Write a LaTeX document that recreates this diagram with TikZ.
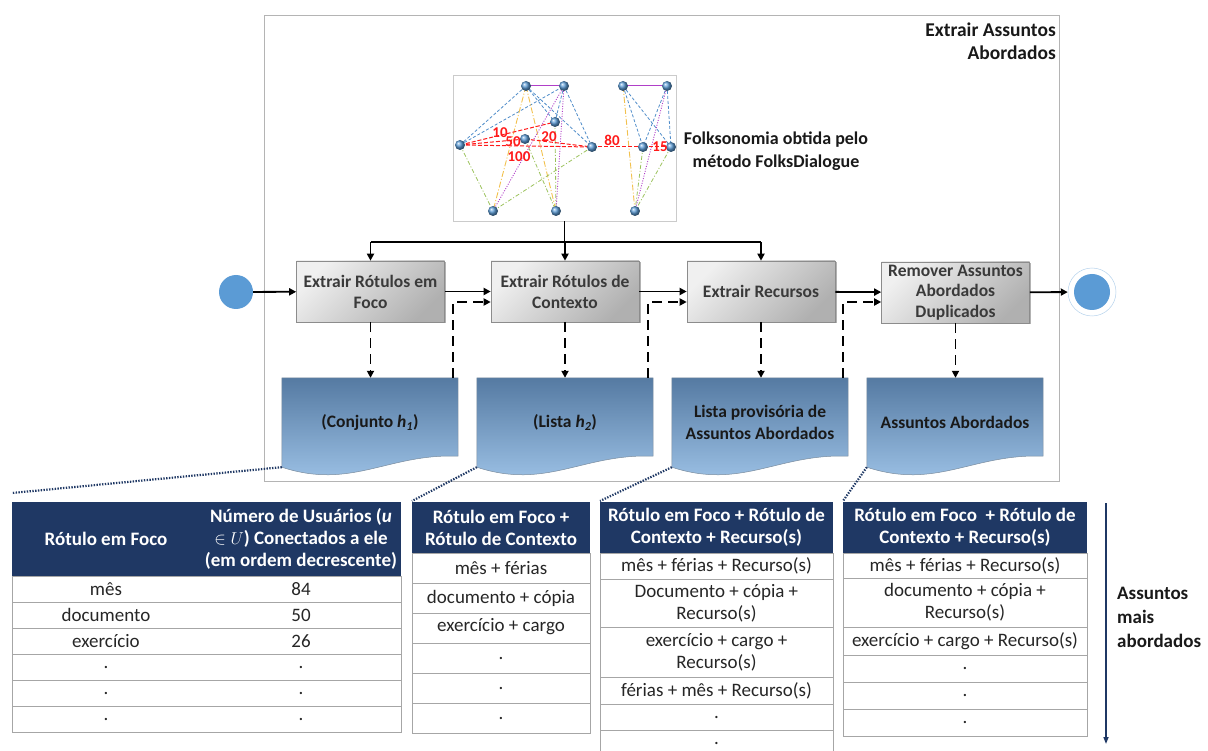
\documentclass[tikz,border=0pt]{standalone}
\usepackage{fontspec}
\setmainfont{Carlito}
\usetikzlibrary{arrows.meta,calc,shadows,backgrounds}

\definecolor{navy}{HTML}{1F3864}
\definecolor{dotBlue}{HTML}{5B9BD5}
\definecolor{boxTop}{HTML}{F0F0F0}
\definecolor{boxBot}{HTML}{B0B0B0}
\definecolor{boxEdge}{HTML}{8C8C8C}
\definecolor{boxText}{HTML}{3A3A3A}
\definecolor{docTop}{HTML}{557AA2}
\definecolor{docBot}{HTML}{A2C7EB}
\definecolor{docEdge}{HTML}{7A8C9E}
\definecolor{gridGray}{HTML}{A6A6A6}
\definecolor{frameGray}{HTML}{B4B4B4}
\definecolor{eBlue}{HTML}{4F8CC9}
\definecolor{eYellow}{HTML}{F2C14E}
\definecolor{eGreen}{HTML}{9BC25C}
\definecolor{ePurple}{HTML}{B03FC8}
\definecolor{eRed}{HTML}{FF1A1A}

\newcommand\setfs[2]{\fontsize{#1}{#2}\selectfont}

\begin{document}
\begin{tikzpicture}[x=1pt,y=-1pt,
  flow/.style={line width=1.8pt,-{Triangle[length=7pt,width=7pt]}},
  plain/.style={line width=1.8pt},
  dflow/.style={line width=1.8pt,dash pattern=on 10pt off 6pt,-{Triangle[length=7pt,width=7pt]}},
  procbox/.style={draw=boxEdge,line width=0.6pt,top color=boxTop,bottom color=boxBot,
    shading angle=45,minimum width=148pt,minimum height=61pt,align=center,inner xsep=2pt,inner ysep=0pt,
    text=boxText,font=\setfs{17.5}{21}\bfseries,
    drop shadow={shadow xshift=1.5pt,shadow yshift=-1.5pt,opacity=0.3,fill=black}},
  docnode/.style={minimum width=176pt,minimum height=89pt,inner sep=0,align=center,
    font=\setfs{17.5}{22}\bfseries,text=black!90},
  docshade/.style={top color=docTop,bottom color=docBot,draw=docEdge,line width=0.5pt},
  gnode/.style={circle,inner sep=0,minimum size=10pt,ball color=dotBlue},
  ebl/.style={eBlue,line width=0.8pt,dash pattern=on 3pt off 2pt},
  eyl/.style={eYellow,line width=0.9pt,dash pattern=on 6pt off 2pt on 1pt off 2pt},
  egr/.style={eGreen,line width=0.8pt,dash pattern=on 4pt off 2pt on 1pt off 2pt},
  epu/.style={ePurple,line width=0.9pt,dash pattern=on 1pt off 1.5pt},
  epus/.style={ePurple,line width=1pt},
  erd/.style={eRed,line width=1pt,dash pattern=on 4pt off 2pt},
  wlbl/.style={text=eRed,font=\setfs{15}{15}\bfseries,inner sep=0},
  link/.style={navy,line width=2.2pt,dash pattern=on 1.4pt off 1.4pt},
  tline/.style={draw=gridGray,line width=0.8pt},
  hdr/.style={font=\setfs{19}{22}\bfseries,align=center,text=white,inner sep=0},
  cell/.style={font=\setfs{19}{22},align=center,inner sep=0,text=black!85},
  boldtxt/.style={font=\setfs{18}{23}\bfseries,inner sep=0,text=black!90}
]
\useasboundingbox (0,0) rectangle (1208,751);

% ---------- process frame ----------
\draw[frameGray,line width=0.8pt] (264,15) rectangle (1059,481);
\node[boldtxt,font=\setfs{19.5}{23}\bfseries,anchor=east,align=right] (title) at (1056,41.5) {Extrair Assuntos\\Abordados};

% ---------- folksonomy graph ----------
\node[draw=frameGray!70,line width=0.6pt,minimum width=223pt,minimum height=146pt,inner sep=0] (folk) at (564.5,148) {};
\node[gnode] (gA) at (526,86) {};
\node[gnode] (gB) at (564,86) {};
\node[gnode] (gC) at (623,86) {};
\node[gnode] (gD) at (667,86) {};
\node[gnode] (gE) at (555,122) {};
\node[gnode] (gF) at (460,145) {};
\node[gnode] (gG) at (525,139) {};
\node[gnode] (gH) at (592,147) {};
\node[gnode] (gI) at (643,147) {};
\node[gnode] (gJ) at (671,147) {};
\node[gnode] (gK) at (493,211) {};
\node[gnode] (gL) at (556,211) {};
\node[gnode] (gM) at (635,211) {};
\begin{scope}[on background layer]
  \draw[ebl] (gF.center) -- (gA.center);
  \draw[ebl] (gF.center) -- (gB.center);
  \draw[ebl] (gA.center) -- (gH.center);
  \draw[ebl] (gB.center) -- (gH.center);
  \draw[ebl] (gB.center) -- (gE.center);
  \draw[ebl] (gA.center) -- (gE.center);
  \draw[ebl] (gC.center) -- (gI.center);
  \draw[ebl] (gC.center) -- (gJ.center);
  \draw[ebl] (gD.center) -- (gI.center);
  \draw[ebl] (gD.center) -- (gJ.center);
  \draw[eyl] (gA.center) -- (gK.center);
  \draw[eyl] (gA.center) -- (gL.center);
  \draw[eyl] (gC.center) -- (gM.center);
  \draw[egr] (gF.center) -- (gK.center);
  \draw[egr] (gK.center) -- (gH.center);
  \draw[egr] (gG.center) -- (gL.center);
  \draw[egr] (gE.center) -- (gL.center);
  \draw[egr] (gJ.center) -- (gM.center);
  \draw[egr] (gI.center) -- (gM.center);
  \draw[epu] (gB.center) -- (gK.center);
  \draw[epu] (gB.center) -- (gL.center);
  \draw[epu] (gD.center) -- (gM.center);
  \draw[epus] (gA.center) -- (gB.center);
  \draw[epus] (gC.center) -- (gD.center);
  \draw[erd] (gF.center) -- (gE.center);
  \draw[erd] (gF.center) -- (gG.center);
  \draw[erd] (gF.center) -- (gH.center);
  \draw[erd] (gG.center) -- (gH.center);
  \draw[erd] (gH.center) -- (gI.center);
  \draw[erd] (gI.center) -- (gJ.center);
\end{scope}
\node[wlbl] (w10) at (500,133) {10};
\node[wlbl] (w50) at (513,142) {50};
\node[wlbl] (w20) at (549,137) {20};
\node[wlbl] (w100) at (519,157) {100};
\node[wlbl] (w80) at (612,140) {80};
\node[wlbl] (w15) at (660,147) {15};
\node[boldtxt,align=center] (folkcap) at (776,151.5) {Folksonomia obtida pelo\\método FolksDialogue};

% ---------- activities ----------
\node[circle,fill=dotBlue,minimum size=34pt,inner sep=0] (start) at (236,292) {};
\node[procbox] (box1) at (370.5,291.5) {Extrair Rótulos em\\Foco};
\node[procbox] (box2) at (565,291.5) {Extrair Rótulos de\\Contexto};
\node[procbox] (box3) at (761,291.5) {Extrair Recursos};
\node[procbox,font=\setfs{17.5}{20.5}\bfseries] (box4) at (955.5,292.5) {Remover Assuntos\\Abordados\\Duplicados};
\node[circle,draw=dotBlue!45,line width=0.5pt,fill=white,minimum size=48pt,inner sep=0,
  path picture={\fill[dotBlue] (path picture bounding box.center) circle (18pt);}] (end) at (1092,292) {};

% ---------- documents ----------
\node[docnode] (doc1) at (370,422.5) {(Conjunto \textit{h}\textsubscript{\textit{1}})};
\node[docnode] (doc2) at (565,422.5) {(Lista \textit{h}\textsubscript{\textit{2}})};
\node[docnode] (doc3) at (760,422.5) {Lista provisória de\\Assuntos Abordados};
\node[docnode] (doc4) at (955,422.5) {Assuntos Abordados};
\begin{scope}[on background layer]
  \foreach \dn in {doc1,doc2,doc3,doc4}{
    \shade[docshade] (\dn.north west) -- (\dn.north east) -- ($(\dn.south east)+(0,-11)$)
      .. controls ($(\dn.south east)+(-70,-14)$) and ($(\dn.south west)+(70,23)$) .. (\dn.south west) -- cycle;
  }
\end{scope}

% ---------- control flow ----------
\coordinate (bus) at ($(folk.south)+(0.5,21)$);
\draw[plain] (folk.south) -- (folk.south |- bus);
\draw[plain] (box1.north |- bus) -- (box3.north |- bus);
\draw[flow] (bus) -- (bus |- box2.north);
\draw[flow] (box1.north |- bus) -- (box1.north);
\draw[flow] (box3.north |- bus) -- (box3.north);
\draw[flow] (start) -- (box1);
\draw[flow] (box1) -- (box2);
\draw[flow] (box2) -- (box3);
\draw[flow] (box3) -- (box4);
\draw[flow] (box4) -- (end);

% ---------- object flow ----------
\foreach \b/\d in {box1/doc1,box2/doc2,box3/doc3,box4/doc4}{
  \draw[dflow] (\b.south) -- (\b.south |- \d.north);
}
\draw[dflow] ($(doc1.north east)+(-5,0)$) |- ($(box2.west)+(0,10.5)$);
\draw[dflow] ($(doc2.north east)+(-5,0)$) |- ($(box3.west)+(0,10.5)$);
\draw[dflow] ($(doc3.north east)+(-5,0)$) |- ($(box4.west)+(0,9.5)$);

% ---------- tables ----------
% table 1
\fill[navy] (12,502) rectangle (401,576);
\draw[tline] (12,576) rectangle (401,732);
\foreach \y in {602,628,654,680,706} \draw[tline] (12,\y) -- (401,\y);
\node[hdr] (t1h1) at (106,539) {Rótulo em Foco};
\node[hdr] (t1h2) at (301,539) {Número de Usuários (\textit{u}\\$\in U$) Conectados a ele\\(em ordem decrescente)};
\node[cell] (t1a1) at (106,589) {mês};       \node[cell] (t1b1) at (301,589) {84};
\node[cell] (t1a2) at (106,615) {documento}; \node[cell] (t1b2) at (301,615) {50};
\node[cell] (t1a3) at (106,641) {exercício}; \node[cell] (t1b3) at (301,641) {26};
\node[cell] (t1a4) at (106,667) {.};         \node[cell] (t1b4) at (301,667) {.};
\node[cell] (t1a5) at (106,693) {.};         \node[cell] (t1b5) at (301,693) {.};
\node[cell] (t1a6) at (106,719) {.};         \node[cell] (t1b6) at (301,719) {.};

% table 2
\fill[navy] (412,502) rectangle (590,553);
\draw[tline] (412,553) rectangle (590,733);
\foreach \y in {583,613,643,673,703} \draw[tline] (412,\y) -- (590,\y);
\node[hdr] (t2h) at (501,527.5) {Rótulo em Foco +\\Rótulo de Contexto};
\node[cell] (t2r1) at (501,568) {mês + férias};
\node[cell] (t2r2) at (501,598) {documento + cópia};
\node[cell] (t2r3) at (501,627) {exercício + cargo};
\node[cell] (t2r4) at (501,658) {.};
\node[cell] (t2r5) at (501,688) {.};
\node[cell] (t2r6) at (501,718) {.};

% table 3
\fill[navy] (600,502) rectangle (833,553);
\draw[tline] (600,751) -- (600,553) -- (833,553) -- (833,751);
\foreach \y in {579,627,677,704,730} \draw[tline] (600,\y) -- (833,\y);
\node[hdr] (t3h) at (716.5,527.5) {Rótulo em Foco + Rótulo de\\Contexto + Recurso(s)};
\node[cell] (t3r1) at (716.5,566) {mês + férias + Recurso(s)};
\node[cell] (t3r2) at (716.5,603) {Documento + cópia +\\Recurso(s)};
\node[cell] (t3r3) at (716.5,652) {exercício + cargo +\\Recurso(s)};
\node[cell] (t3r4) at (716.5,690.5) {férias + mês + Recurso(s)};
\node[cell] (t3r5) at (716.5,717) {.};
\node[cell] (t3r6) at (716.5,743) {.};

% table 4
\fill[navy] (843,502) rectangle (1087,553);
\draw[tline] (843,553) rectangle (1087,736);
\foreach \y in {578,627,655,682,709} \draw[tline] (843,\y) -- (1087,\y);
\node[hdr] (t4h) at (965,527.5) {Rótulo em Foco~ + Rótulo de\\Contexto + Recurso(s)};
\node[cell] (t4r1) at (965,565.5) {mês + férias + Recurso(s)};
\node[cell] (t4r2) at (965,602.5) {documento + cópia +\\Recurso(s)};
\node[cell] (t4r3) at (965,641) {exercício + cargo + Recurso(s)};
\node[cell] (t4r4) at (965,668.5) {.};
\node[cell] (t4r5) at (965,695.5) {.};
\node[cell] (t4r6) at (965,722.5) {.};

% ranking arrow
\coordinate (rankTop) at (1106,503);
\coordinate (rankEnd) at (1106,744);
\draw[navy,line width=1.5pt,-{Triangle[length=7pt,width=5pt]}] (rankTop) -- (rankEnd);
\node[boldtxt,font=\setfs{19}{24}\bfseries,anchor=west,align=left] (rankTxt) at (1117,617) {Assuntos\\mais\\abordados};

% ---------- document to table links ----------
\coordinate (t1c) at (12,493);
\coordinate (t2c) at (412,501);
\coordinate (t3c) at (600,501);
\coordinate (t4c) at (843,501);
\draw[link] (doc1.south west) -- (t1c);
\draw[link] (doc2.south west) -- (t2c);
\draw[link] (doc3.south west) -- (t3c);
\draw[link] (doc4.south west) -- (t4c);
\end{tikzpicture}
\end{document}
